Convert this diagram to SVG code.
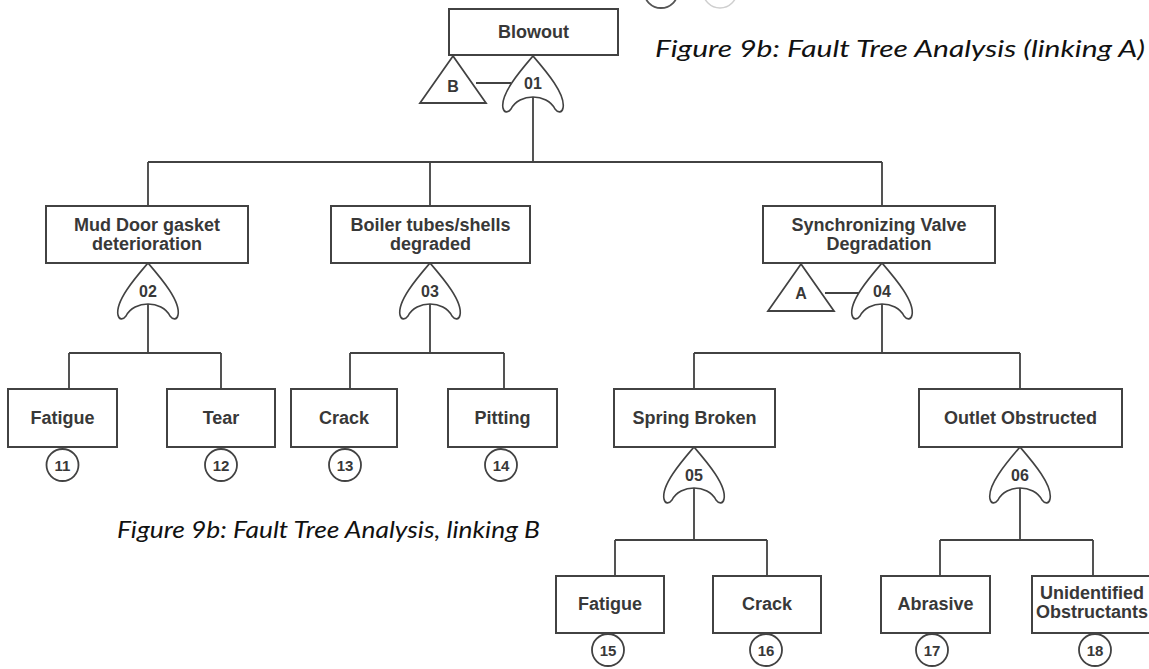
<svg xmlns="http://www.w3.org/2000/svg" width="1149" height="669" viewBox="0 0 1149 669">
  <defs>
    <style>
      .box { fill: #ffffff; stroke: #424242; stroke-width: 2; }
      .gate { fill: #ffffff; stroke: #424242; stroke-width: 1.6; stroke-linejoin: round; }
      .tri { fill: #ffffff; stroke: #424242; stroke-width: 1.8; stroke-linejoin: miter; }
      .evt { fill: #ffffff; stroke: #424242; stroke-width: 1.8; }
      .wire { fill: none; stroke: #424242; stroke-width: 1.8; }
      .lbl { font-family: "Liberation Sans", Arial, sans-serif; font-weight: bold; font-size: 18px; fill: #383838; text-anchor: middle; }
      .glbl { font-family: "Liberation Sans", Arial, sans-serif; font-weight: bold; font-size: 16px; fill: #383838; text-anchor: middle; }
      .num { font-family: "Liberation Sans", Arial, sans-serif; font-weight: bold; font-size: 15px; fill: #383838; text-anchor: middle; }
      .cap { font-family: Lato, "Open Sans", "Liberation Sans", sans-serif; font-style: italic; font-size: 23px; fill: #111111; }
    </style>
    <!-- OR gate, apex at the origin -->
    <path id="orgate" d="M0,0 C-12,14 -33,38 -30,52 C-29,57 -25,57 -22,53 C-14,37 14,37 22,53 C25,57 29,57 30,52 C33,38 12,14 0,0 Z"/>
    <!-- transfer triangle, apex at the origin -->
    <path id="transfer" d="M0,0 L33,47 L-33,47 Z"/>
  </defs>

  <rect width="1149" height="669" fill="#ffffff"/>

  <!-- basic-event circles cut by the upper edge -->
  <circle cx="661" cy="-9" r="17" fill="none" stroke="#555555" stroke-width="1.8"/>
  <circle cx="720" cy="-9" r="17" fill="none" stroke="#cfcfcf" stroke-width="1.5"/>

  <!-- captions -->
  <text class="cap" x="655" y="57" textLength="490" lengthAdjust="spacingAndGlyphs">Figure 9b: Fault Tree Analysis (linking A)</text>
  <text class="cap" x="117" y="538" textLength="423" lengthAdjust="spacingAndGlyphs">Figure 9b: Fault Tree Analysis, linking B</text>

  <!-- connectors -->
  <g id="connectors" class="wire">
    <!-- top: gate 01 to the second level -->
    <path d="M476,83 H511"/>
    <path d="M533,93 V162 M148,162 H882 M148,162 V206 M430,162 V206 M882,162 V206"/>
    <!-- gate 02 -->
    <path d="M148,300 V353 M69,353 H221 M69,353 V389 M221,353 V389"/>
    <!-- gate 03 -->
    <path d="M430,300 V353 M350,353 H504 M350,353 V389 M504,353 V389"/>
    <!-- gate 04 with transfer A -->
    <path d="M825,293 H860"/>
    <path d="M882,300 V353 M694,353 H1020 M694,353 V389 M1020,353 V389"/>
    <!-- gate 05 -->
    <path d="M694,484 V540 M615,540 H767 M615,540 V576 M767,540 V576"/>
    <!-- gate 06 -->
    <path d="M1020,484 V540 M940,540 H1093 M940,540 V576 M1093,540 V576"/>
  </g>

  <!-- top event -->
  <g id="n-blowout">
    <rect class="box" x="449" y="9" width="169" height="46"/>
    <text class="lbl" x="533.5" y="38">Blowout</text>
  </g>
  <g id="g-01">
    <use href="#orgate" class="gate" transform="translate(533,56)"/>
    <text class="glbl" x="533" y="89">01</text>
  </g>
  <g id="t-B">
    <use href="#transfer" class="tri" transform="translate(453,56)"/>
    <text class="glbl" x="453" y="92">B</text>
  </g>

  <!-- second level -->
  <g id="n-mud-door">
    <rect class="box" x="46" y="206" width="202" height="57"/>
    <text class="lbl" x="147" y="231">Mud Door gasket</text>
    <text class="lbl" x="147" y="250">deterioration</text>
  </g>
  <g id="g-02">
    <use href="#orgate" class="gate" transform="translate(148,263)"/>
    <text class="glbl" x="148" y="297">02</text>
  </g>

  <g id="n-boiler">
    <rect class="box" x="331" y="206" width="199" height="57"/>
    <text class="lbl" x="430.5" y="231">Boiler tubes/shells</text>
    <text class="lbl" x="430.5" y="250">degraded</text>
  </g>
  <g id="g-03">
    <use href="#orgate" class="gate" transform="translate(430,263)"/>
    <text class="glbl" x="430" y="297">03</text>
  </g>

  <g id="n-sync-valve">
    <rect class="box" x="763" y="206" width="232" height="57"/>
    <text class="lbl" x="879" y="231">Synchronizing Valve</text>
    <text class="lbl" x="879" y="250">Degradation</text>
  </g>
  <g id="g-04">
    <use href="#orgate" class="gate" transform="translate(882,263)"/>
    <text class="glbl" x="882" y="297">04</text>
  </g>
  <g id="t-A">
    <use href="#transfer" class="tri" transform="translate(801,264)"/>
    <text class="glbl" x="801" y="299">A</text>
  </g>

  <!-- third level -->
  <g id="n-fatigue-11">
    <rect class="box" x="8" y="389" width="109" height="58"/>
    <text class="lbl" x="62.5" y="424">Fatigue</text>
    <circle class="evt" cx="62.5" cy="465" r="16"/>
    <text class="num" x="62.5" y="470.5">11</text>
  </g>
  <g id="n-tear-12">
    <rect class="box" x="167" y="389" width="108" height="58"/>
    <text class="lbl" x="221" y="424">Tear</text>
    <circle class="evt" cx="221" cy="465" r="16"/>
    <text class="num" x="221" y="470.5">12</text>
  </g>
  <g id="n-crack-13">
    <rect class="box" x="291" y="389" width="106" height="58"/>
    <text class="lbl" x="344" y="424">Crack</text>
    <circle class="evt" cx="345" cy="465" r="16"/>
    <text class="num" x="345" y="470.5">13</text>
  </g>
  <g id="n-pitting-14">
    <rect class="box" x="448" y="389" width="109" height="58"/>
    <text class="lbl" x="502.5" y="424">Pitting</text>
    <circle class="evt" cx="501" cy="465" r="16"/>
    <text class="num" x="501" y="470.5">14</text>
  </g>

  <g id="n-spring">
    <rect class="box" x="614" y="389" width="161" height="58"/>
    <text class="lbl" x="694.5" y="424">Spring Broken</text>
  </g>
  <g id="g-05">
    <use href="#orgate" class="gate" transform="translate(694,447)"/>
    <text class="glbl" x="694" y="481">05</text>
  </g>

  <g id="n-outlet">
    <rect class="box" x="919" y="389" width="203" height="58"/>
    <text class="lbl" x="1020.5" y="424">Outlet Obstructed</text>
  </g>
  <g id="g-06">
    <use href="#orgate" class="gate" transform="translate(1020,447)"/>
    <text class="glbl" x="1020" y="481">06</text>
  </g>

  <!-- fourth level -->
  <g id="n-fatigue-15">
    <rect class="box" x="556" y="576" width="108" height="57"/>
    <text class="lbl" x="610" y="610">Fatigue</text>
    <circle class="evt" cx="608" cy="650" r="16"/>
    <text class="num" x="608" y="655.5">15</text>
  </g>
  <g id="n-crack-16">
    <rect class="box" x="713" y="576" width="108" height="57"/>
    <text class="lbl" x="767" y="610">Crack</text>
    <circle class="evt" cx="766" cy="650" r="16"/>
    <text class="num" x="766" y="655.5">16</text>
  </g>
  <g id="n-abrasive-17">
    <rect class="box" x="881" y="576" width="109" height="57"/>
    <text class="lbl" x="935.5" y="610">Abrasive</text>
    <circle class="evt" cx="932" cy="650" r="16"/>
    <text class="num" x="932" y="655.5">17</text>
  </g>
  <g id="n-unidentified-18">
    <rect class="box" x="1032" y="576" width="125" height="57"/>
    <text class="lbl" x="1092" y="599">Unidentified</text>
    <text class="lbl" x="1092" y="618">Obstructants</text>
    <circle class="evt" cx="1095" cy="650" r="16"/>
    <text class="num" x="1095" y="655.5">18</text>
  </g>
</svg>
